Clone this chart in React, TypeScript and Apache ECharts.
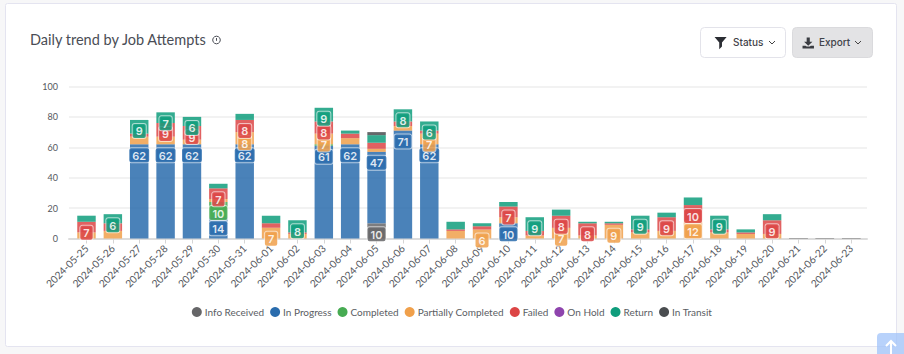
import React, { useEffect, useRef } from "react";
import * as echarts from "echarts";

const categories = [
  "2024-05-25","2024-05-26","2024-05-27","2024-05-28","2024-05-29","2024-05-30","2024-05-31",
  "2024-06-01","2024-06-02","2024-06-03","2024-06-04","2024-06-05","2024-06-06","2024-06-07",
  "2024-06-08","2024-06-09","2024-06-10","2024-06-11","2024-06-12","2024-06-13","2024-06-14",
  "2024-06-15","2024-06-16","2024-06-17","2024-06-18","2024-06-19","2024-06-20","2024-06-21",
  "2024-06-22","2024-06-23",
];
const infoReceived = [0,0,0,0,0,0,0,0,0,0,0,10,0,0,0,0,0,0,0,0,0,0,0,0,0,0,0,0,0,0];
const inProgress = [0,0,62,62,62,14,62,0,0,61,62,47,71,62,0,0,10,0,0,0,0,0,0,0,0,0,0,0,0,0];
const completed = [0,0,0,0,0,10,0,0,0,1,0,0,0,0,0,0,0,0,0,0,0,0,0,0,0,0,0,0,0,0];
const partiallyCompleted = [4,5,5,5,3,2,8,7,3,7,4,2,3,7,5,6,4,2,7,2,9,4,5,12,4,3,3,0,0,0];
const failed = [7,5,2,9,9,7,8,3,1,8,3,4,3,2,1,2,7,3,8,8,1,2,9,10,2,1,9,0,0,0];
const onHold = [0,0,0,0,0,0,0,0,0,0,0,0,0,0,0,0,0,0,0,0,0,0,0,0,0,0,0,0,0,0];
const returned = [4,6,9,7,6,3,4,5,8,9,2,5,8,6,5,2,3,9,4,1,1,9,3,5,9,2,4,0,0,0];
const inTransit = [0,0,0,0,0,0,0,0,0,0,0,2,0,0,0,0,0,0,0,0,0,0,0,0,0,0,0,0,0,0];
const yTicks = { min: 0, max: 100, interval: 20 };

const seriesDefs = [
  { name: "Info Received", values: infoReceived, color: "#666668" },
  { name: "In Progress", values: inProgress, color: "#2a6cad" },
  { name: "Completed", values: completed, color: "#46ab52" },
  { name: "Partially Completed", values: partiallyCompleted, color: "#f0a04b" },
  { name: "Failed", values: failed, color: "#dc4545" },
  { name: "On Hold", values: onHold, color: "#8e44ad" },
  { name: "Return", values: returned, color: "#0f9d7c" },
  { name: "In Transit", values: inTransit, color: "#4a4d50" },
];

const UI_FONT = "Lato";

echarts.graphic.registerShape("funnelIcon", echarts.graphic.extendPath("M1 2h22l-8.5 10v7l-5 5V12z", {}));
echarts.graphic.registerShape("downloadIcon", echarts.graphic.extendPath("M9 1h6v9h5l-8 8-8-8h5zM1 18h6l2 2h6l2-2h6v6H1z", {}));

function chevron(cx: number, cy: number) {
  return {
    type: "polyline",
    shape: { points: [[cx - 3, cy - 1.5], [cx, cy + 1.5], [cx + 3, cy - 1.5]] },
    style: { stroke: "#444", lineWidth: 1, fill: "none" },
    z: 5,
  };
}

export default function App() {
  const ref = useRef<HTMLDivElement>(null);
  useEffect(() => {
    document.body.style.margin = "0";
    const chart = echarts.init(ref.current!, undefined, { renderer: "svg" });
    const series = seriesDefs.map((d) => ({
      name: d.name,
      type: "bar",
      stack: "total",
      xAxisIndex: 1,
      yAxisIndex: 1,
      barWidth: "70%",
      itemStyle: { color: d.color, opacity: 0.85, borderWidth: 0 },
      label: {
        show: false,
        position: "insideTop",
        distance: 4,
        color: "#fff",
        fontFamily: "Inter",
        fontWeight: 600,
        fontSize: 11,
        backgroundColor: d.color,
        borderColor: "rgba(255,255,255,0.7)",
        borderWidth: 1,
        borderRadius: 2,
        padding: [2, 3, 1, 3],
      },
      data: d.values.map((v, i) => {
        const columnEmpty = seriesDefs.every((s) => s.values[i] === 0);
        if (columnEmpty && d.name === "In Transit") {
          return { value: 0, itemStyle: { borderColor: "#a8a8a8", borderWidth: 1, opacity: 1 } };
        }
        if (v === 0) return { value: null };
        return { value: v, label: { show: v >= 6 } };
      }),
    }));

    chart.setOption({
      animation: false,
      backgroundColor: "#f7f7f8",
      textStyle: { fontFamily: UI_FONT },
      title: {
        text: "Daily trend by Job Attempts",
        left: 25,
        top: 27,
        textStyle: { fontFamily: UI_FONT, fontSize: 14.5, fontWeight: 400, color: "#4a4d55" },
      },
      legend: {
        left: "center",
        top: 302,
        icon: "circle",
        itemWidth: 10,
        itemHeight: 10,
        itemGap: 6,
        textStyle: { fontFamily: UI_FONT, fontSize: 10, color: "#5a5d63", padding: [0, 0, 0, -2] },
        data: seriesDefs.map((d) => ({ name: d.name, itemStyle: { color: d.color, opacity: 1 } })),
      },
      grid: [
        { left: 69, right: 37, top: 86.5, height: 152 },
        { left: 73.3, right: 39.6, top: 86.5, height: 152 },
      ],
      xAxis: [
        {
          type: "category",
          gridIndex: 0,
          data: categories,
          axisLine: { lineStyle: { color: "#dcdcdc", width: 2 } },
          axisTick: { show: false },
          axisLabel: { show: false },
        },
        {
          type: "category",
          gridIndex: 1,
          data: categories,
          axisLine: { show: false },
          axisTick: { show: true, alignWithLabel: true, length: 5, lineStyle: { color: "#d5d5d5" } },
          axisLabel: {
            interval: 0,
            rotate: 45,
            margin: 8,
            fontFamily: UI_FONT,
            fontSize: 10.2,
            color: "#55585e",
          },
        },
      ],
      yAxis: [
        {
          type: "value",
          gridIndex: 0,
          ...yTicks,
          axisLine: { show: false },
          axisTick: { show: false },
          axisLabel: { margin: 11, fontFamily: UI_FONT, fontSize: 9, color: "#55585e" },
          splitLine: { lineStyle: { color: "#eeeeee", width: 1.5 } },
        },
        {
          type: "value",
          gridIndex: 1,
          ...yTicks,
          show: false,
          splitLine: { show: false },
        },
      ],
      series,
      graphic: [
        { type: "rect", z: -10, shape: { x: 5.5, y: 3.5, width: 891, height: 343, r: 2 }, style: { fill: "#fff", stroke: "#e4e4f0", lineWidth: 1 } },
        { type: "circle", z: 5, shape: { cx: 216.5, cy: 40, r: 3.8 }, style: { fill: "none", stroke: "#4a4d55", lineWidth: 1 } },
        { type: "line", z: 5, shape: { x1: 216.5, y1: 38, x2: 216.5, y2: 40.8 }, style: { stroke: "#4a4d55", lineWidth: 1 } },
        { type: "rect", z: 4, shape: { x: 700.5, y: 27.5, width: 85, height: 30, r: 4 }, style: { fill: "#fff", stroke: "#e3e3ea", lineWidth: 1 } },
        { type: "rect", z: 4, shape: { x: 792.5, y: 27.5, width: 80, height: 30, r: 4 }, style: { fill: "#e3e3e5", stroke: "#dadadd", lineWidth: 1 } },
        { type: "funnelIcon", z: 5, x: 714, y: 36, scaleX: 0.55, scaleY: 0.55, style: { fill: "#2b2d33" } },
        { type: "downloadIcon", z: 5, x: 802, y: 37, scaleX: 0.52, scaleY: 0.48, style: { fill: "#3a3c42" } },
        { type: "text", z: 5, x: 733, y: 42, style: { text: "Status", fontFamily: "Inter", fontSize: 10, fontWeight: 500, fill: "#3f4249", verticalAlign: "middle" } },
        { type: "text", z: 5, x: 819, y: 42, style: { text: "Export", fontFamily: "Inter", fontSize: 10, fontWeight: 500, fill: "#3f4249", verticalAlign: "middle" } },
        chevron(772, 42.5),
        chevron(858, 42.5),
        { type: "rect", z: 6, shape: { x: 877, y: 333, width: 30, height: 25, r: 4 }, style: { fill: "rgba(160,195,250,0.75)" } },
        { type: "polyline", z: 7, shape: { points: [[886, 346], [891, 341], [896, 346]] }, style: { stroke: "#fff", lineWidth: 2, fill: "none" } },
        { type: "line", z: 7, shape: { x1: 891, y1: 341, x2: 891, y2: 354 }, style: { stroke: "#fff", lineWidth: 2 } },
      ],
    });
    return () => chart.dispose();
  }, []);
  return <div ref={ref} style={{ width: 904, height: 354 }} />;
}
